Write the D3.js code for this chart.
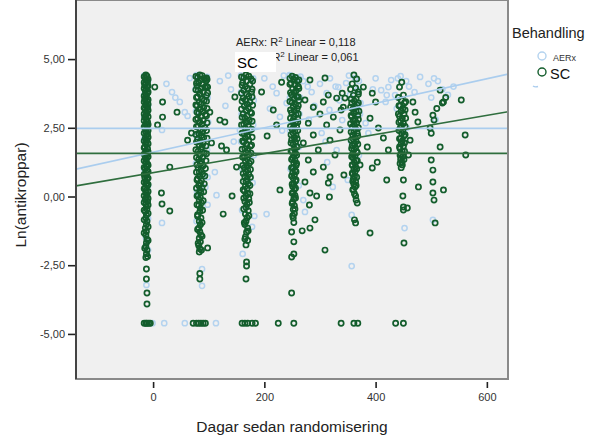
<!DOCTYPE html>
<html>
<head>
<meta charset="utf-8">
<script src="https://cdn.jsdelivr.net/npm/d3@7"></script>
<style>
	body { margin: 0; background: #fff; }
	svg text { font-family: "Liberation Sans", Arial, sans-serif; }
</style>
</head>
<body>
<div id="chart"></div>
<script>
// data: [dagar, ln(antikroppar)]
var groups = ['AERx', 'SC'];
var xTicks = [0, 200, 400, 600];
var yTicks = [5, 2.5, 0, -2.5, -5];

// R2 linear fits (intercept at day 0, slope per day) and group means
var fitIntercept = [1.614, 0.868];
var fitSlope = [0.00445, 0.00347];
var groupMean = [2.48, 1.57];
var rSquared = ['0,118', '0,061'];

var scVisit0 = [[-13,4.42],[-11,4.38],[-14,4.3],[-12,4.25],[-10,4.18],[-13,4.12],[-15,4.05],[-11,3.99],[-12,3.9],[-14,3.84],[-10,3.77],[-13,3.7],[-12,3.61],[-15,3.55],[-11,3.47],[-13,3.4],[-12,3.31],[-10,3.25],[-14,3.18],[-12,3.1],[-11,3.02],[-13,2.95],[-15,2.88],[-12,2.8],[-10,2.71],[-13,2.65],[-11,2.58],[-14,2.5],[-12,2.43],[-13,2.35],[-10,2.27],[-12,2.2],[-14,2.12],[-11,2.05],[-13,1.97],[-12,1.88],[-15,1.8],[-10,1.74],[-13,1.66],[-12,1.57],[-11,1.5],[-14,1.42],[-12,1.35],[-13,1.26],[-10,1.18],[-12,1.1],[-14,1.02],[-11,0.95],[-13,0.87],[-12,0.78],[-15,0.7],[-11,0.63],[-13,0.55],[-12,0.46],[-10,0.4],[-14,0.31],[-12,0.23],[-13,0.14],[-11,0.07],[-12,-0.02],[-14,-0.1],[-10,-0.18],[-13,-0.27],[-12,-0.36],[-11,-0.45],[-14,-0.55],[-12,-0.66],[-13,-0.78],[-11,-0.9],[-12,-1.02],[-14,-1.15],[-12,-1.27],[-13,-1.4],[-11,-1.55],[-12,-1.68],[-13,-1.82],[-11,-1.95],[-12,-2.08],[-10,-2.18],[-13,-2.22],
	[-12,-2.64],[-12,-3.0],[-11,-3.51],[-11,-3.91],[-16,-4.61],[-13,-4.61],[-11,-4.61],[-8,-4.61],[-5,-4.61],
	[3,3.98],[17,3.44],[43,3.07],[17,2.89],[8,2.6],[30,1.07],[15,0.13],[16,-0.27],[30,-0.53]];
var scVisit0b = [[-16,4.36],[-9,4.27],[-16,4.15],[-9,4.02],[-16,3.93],[-9,3.8],[-16,3.66],[-9,3.52],[-16,3.44],[-9,3.36],[-16,3.22],[-9,3.14],[-16,3.0],[-9,2.9],[-16,2.76],[-9,2.62],[-16,2.53],[-9,2.4],[-16,2.3],[-9,2.16],[-16,2.02],[-9,1.92],[-16,1.77],[-9,1.63],[-16,1.54],[-9,1.45],[-16,1.3],[-9,1.14],[-16,1.06],[-9,0.9],[-16,0.8],[-9,0.67],[-16,0.52],[-9,0.44],[-16,0.28],[-9,0.18],[-16,0.03],[-9,-0.07],[-16,-0.22],[-9,-0.31],[-16,-0.5],[-9,-0.62],[-16,-0.85],[-9,-1.1],[-16,-1.33],[-9,-1.6],[-15,-1.88]];

var scVisit1 = [[84,4.42],[88,4.4],[80,4.33],[92,4.3],[85,4.24],[95,4.2],[82,4.15],[89,4.1],[79,4.03],[93,3.98],[86,3.92],[81,3.86],[90,3.8],[84,3.73],[96,3.68],[80,3.62],[88,3.55],[92,3.5],[83,3.43],[86,3.36],[79,3.3],[91,3.24],[85,3.17],[89,3.1],[82,3.04],[94,2.98],[86,2.91],[80,2.84],[90,2.77],[84,2.7],[88,2.63],[81,2.57],[93,2.5],[85,2.43],[89,2.36],[82,2.29],[87,2.22],[91,2.15],[80,2.08],[85,2.01],[90,1.94],[83,1.87],[88,1.8],[86,1.72],[81,1.65],[92,1.58],[84,1.5],[89,1.43],[82,1.36],[87,1.28],[85,1.2],[90,1.12],[81,1.05],[86,0.97],[83,0.89],[89,0.81],[84,0.73],[80,0.65],[87,0.57],[85,0.48],[82,0.4],[88,0.32],[84,0.23],[86,0.14],[81,0.05],[85,-0.04],[83,-0.13],[87,-0.23],[82,-0.33],[85,-0.43],[84,-0.55],[80,-0.66],[86,-0.78],[83,-0.9],[85,-1.03],[82,-1.15],[84,-1.28],[86,-1.4],[83,-1.52],[85,-1.65],[82,-1.78],[84,-1.9],[83,-2.02],[98,-1.87],
	[84,-2.8],[84,-3.0],[72,-4.61],[78,-4.61],[82,-4.61],[86,-4.61],[90,-4.61],[94,-4.61],
	[96,4.31],[98,3.98],[102,3.07],[69,2.31],[62,2.05],[105,1.95],[123,1.84],[132,1.69],[120,2.78],[129,2.71],[147,3.62],[150,1.07],[142,0.02],[126,-0.64]];
var scVisit1b = [[77,4.37],[97,4.26],[78,4.12],[96,4.0],[77,3.88],[98,3.77],[78,3.6],[96,3.47],[77,3.33],[97,3.2],[79,3.07],[96,2.94],[77,2.8],[97,2.68],[78,2.54],[96,2.4],[77,2.26],[97,2.12],[78,1.98],[95,1.84],[77,1.7],[96,1.56],[78,1.42],[95,1.3],[79,1.16],[94,1.02],[78,0.88],[93,0.75],[79,0.6],[92,0.46],[78,0.3],[91,0.17],[79,0.02],[90,-0.15],[79,-0.3],[89,-0.5],[80,-0.72],[88,-0.95],[80,-1.2],[88,-1.45],[81,-1.7],[87,-1.95]];

var scVisit2 = [[167,4.42],[172,4.38],[163,4.32],[176,4.28],[168,4.2],[161,4.14],[174,4.08],[166,4.0],[170,3.93],[163,3.86],[177,3.8],[168,3.72],[172,3.65],[162,3.58],[166,3.5],[174,3.43],[169,3.36],[164,3.29],[171,3.22],[167,3.14],[175,3.07],[162,3.0],[169,2.93],[165,2.85],[173,2.78],[168,2.7],[163,2.63],[171,2.56],[166,2.48],[174,2.41],[168,2.34],[164,2.27],[170,2.2],[166,2.12],[172,2.05],[163,1.98],[168,1.9],[175,1.83],[165,1.75],[170,1.68],[167,1.6],[172,1.52],[164,1.44],[169,1.37],[166,1.29],[173,1.21],[168,1.13],[164,1.05],[170,0.97],[167,0.89],[172,0.8],[165,0.72],[169,0.63],[167,0.55],[171,0.46],[166,0.38],[169,0.29],[164,0.2],[170,0.11],[167,0.02],[172,-0.08],[165,-0.18],[169,-0.28],[167,-0.4],[171,-0.52],[166,-0.64],[169,-0.77],[167,-0.9],[165,-1.02],[170,-1.15],[168,-1.3],[166,-1.47],[170,-1.6],[167,-1.76],
	[168,-2.38],[168,-2.53],[167,-3.0],[160,-4.61],[165,-4.61],[170,-4.61],[178,-4.61],[184,-4.61],
	[216,3.15],[231,4.16],[205,2.2],[195,3.8],[222,2.6]];
var scVisit2b = [[159,4.35],[179,4.2],[160,4.05],[178,3.9],[159,3.76],[178,3.62],[160,3.47],[179,3.32],[159,3.18],[177,3.03],[160,2.88],[178,2.74],[159,2.6],[177,2.45],[160,2.3],[178,2.16],[161,2.02],[177,1.87],[160,1.72],[176,1.58],[161,1.43],[176,1.28],[161,1.13],[175,0.98],[162,0.84],[175,0.7],[162,0.55],[174,0.4],[162,0.25],[174,0.1],[163,-0.06],[173,-0.22],[163,-0.45],[172,-0.7],[164,-0.95],[171,-1.25],[165,-1.55]];

var scVisit3 = [[250,4.38],[256,4.33],[253,4.26],[259,4.2],[248,4.13],[255,4.06],[261,4.0],[251,3.92],[257,3.85],[253,3.78],[249,3.7],[258,3.63],[254,3.56],[262,3.49],[250,3.42],[256,3.35],[252,3.27],[259,3.2],[254,3.12],[249,3.05],[257,2.98],[253,2.9],[260,2.83],[251,2.75],[256,2.68],[253,2.6],[258,2.53],[250,2.45],[255,2.37],[252,2.3],[257,2.22],[254,2.14],[249,2.06],[256,1.98],[252,1.9],[258,1.82],[254,1.73],[250,1.65],[256,1.57],[253,1.48],[251,1.4],[255,1.31],[253,1.22],[257,1.13],[252,1.04],[255,0.95],[251,0.86],[254,0.76],[252,0.66],[256,0.56],[253,0.46],[251,0.36],[254,0.26],[252,0.15],[255,0.04],[253,-0.08],[251,-0.2],[254,-0.33],[252,-0.47],[254,-0.62],[252,-0.78],[253,-0.95],
	[249,-1.29],[253,-1.65],[249,-2.2],[253,-2.09],[249,-3.51],[225,-4.61],[253,-4.61],
	[228,0.24],[282,0.13],[294,0.02],[281,-0.31],[317,-0.02],[291,-0.85],[282,-1.15],[268,-1.25],[309,-1.95],[273,0.53],[315,0.49],
	[309,4.31],[282,4.24],[315,3.69],[273,3.51],[330,3.58],[306,3.44],[342,3.25],[288,3.25],[300,3.0],[324,2.89],[279,2.67],[312,2.6],[336,2.42],[288,2.24],[318,2.05],[270,1.95],[297,1.69],[327,1.51],[279,1.33],[306,1.07],[288,0.89],[318,0.71],[343,0.78]];
var scVisit3b = [[246,4.3],[262,4.24],[246,4.08],[262,3.93],[247,3.78],[261,3.62],[246,3.46],[261,3.3],[247,3.15],[261,3.0],[247,2.85],[260,2.7],[247,2.55],[260,2.4],[248,2.25],[259,2.1],[248,1.95],[259,1.8],[248,1.65],[258,1.5],[249,1.35],[258,1.2],[249,1.05],[257,0.9],[249,0.75],[257,0.6],[250,0.45],[256,0.3],[250,0.12],[256,-0.05],[250,-0.25],[255,-0.45],[251,-0.7]];

var scVisit4 = [[361,4.42],[366,4.28],[358,4.1],[364,3.95],[369,3.8],[360,3.68],[365,3.56],[362,3.47],[357,3.4],[367,3.33],[363,3.25],[359,3.18],[365,3.1],[361,3.03],[368,2.96],[357,2.9],[363,2.82],[360,2.75],[366,2.68],[362,2.6],[358,2.53],[364,2.46],[361,2.38],[367,2.3],[359,2.23],[363,2.15],[360,2.08],[365,2.0],[362,1.92],[358,1.85],[364,1.77],[361,1.7],[366,1.62],[359,1.55],[363,1.47],[360,1.39],[365,1.31],[362,1.23],[358,1.15],[364,1.07],[361,0.99],[363,0.9],[359,0.82],[362,0.73],[360,0.64],[364,0.55],[361,0.45],[363,0.35],[360,0.25],[362,0.1],[364,0.02],[365,-0.13],[367,-0.24],[362,-0.85],[364,-0.96],
	[338,-4.61],[361,-4.61],[368,-4.61],
	[394,3.76],[400,3.44],[390,2.85],[405,2.49],[414,2.13],[423,1.69],[385,1.8],[394,1.04],[403,1.25],[420,0.6],[345,3.58],[338,3.15],[340,3.76],[378,3.98],[372,1.15],[390,-1.33]];
var scVisit4b = [[355,3.9],[369,3.72],[356,3.55],[369,3.4],[355,3.25],[370,3.1],[356,2.95],[369,2.8],[355,2.65],[369,2.5],[356,2.35],[368,2.2],[356,2.05],[368,1.9],[357,1.75],[367,1.6],[357,1.45],[367,1.3],[358,1.15],[366,1.0],[358,0.85],[366,0.7],[359,0.55],[365,0.4],[359,0.25]];

var scVisit5 = [[447,4.16],[443,3.98],[450,3.69],[446,3.51],[452,3.4],[444,3.3],[449,3.2],[446,3.1],[451,3.0],[443,2.92],[448,2.84],[445,2.75],[450,2.66],[446,2.57],[444,2.48],[449,2.39],[447,2.3],[451,2.2],[445,2.11],[448,2.02],[446,1.92],[450,1.83],[444,1.74],[448,1.64],[446,1.55],[449,1.45],[445,1.36],[447,1.26],[448,1.15],[446,1.05],[450,0.6],[449,0.02],[450,-0.38],[457,-0.42],[450,-0.49],[451,-1.69],
	[436,-4.61],[450,-4.61],
	[476,2.71],[467,3.44],[471,3.07],[516,3.87],[522,3.44],[503,2.96],[498,2.49],[462,2.05],[459,1.51]];
var scVisit5b = [[441,3.6],[454,3.45],[442,3.3],[453,3.15],[441,3.0],[454,2.85],[442,2.7],[453,2.55],[442,2.4],[453,2.25],[443,2.1],[452,1.95],[443,1.8],[452,1.65],[444,1.5],[451,1.35],[444,1.2]];

var scVisit6 = [[503,0.53],[503,0.13],[505,-0.13],[507,-0.96],[522,0.24],[477,0.35],[500,1.33],[503,0.96],[516,1.8],[554,3.51],[561,2.24],[562,1.51],[500,2.3],[505,2.78],[510,3.2],[520,3.4],[526,3.6]];

var aerxVisit0 = [[-16,4.4],[-9,4.2],[-16,3.7],[-9,3.3],[-16,2.9],[-9,2.5],[-16,2.1],[-9,1.6],[-16,1.0],[-9,0.4],[-16,-0.2],[-9,-0.8],[-13,-1.5],[-12,-3.22],[-9,-1.95],[-1,-4.61],
	[66,4.31],[34,3.8],[48,3.44],[57,3.07],[62,2.93],[16,2.42],[24,4.1],[40,3.6],[16,-0.96],[20,-4.61],[57,-4.61]];

var aerxVisit1 = [[78,4.42],[97,4.35],[76,3.9],[98,3.6],[77,3.1],[99,2.7],[78,2.2],[97,1.7],[77,1.2],[98,0.7],[79,0.16],[94,0.34],[114,0.05],[111,0.89],[88,-2.64],[88,-3.25],[113,-4.61],[98,-0.3],[78,-0.9],
	[156,2.42],[140,3.9],[120,4.2],[130,3.3],[145,2.0],[182,-0.71],[204,-0.64],[161,-2.09],[135,4.4]];

var aerxVisit2 = [[158,4.4],[180,4.3],[158,3.8],[181,3.5],[159,3.0],[180,2.6],[158,2.0],[181,1.5],[160,1.0],[179,0.5],[160,-0.5],[178,-1.1],
	[200,4.3],[215,4.0],[222,3.76],[235,4.4],[240,3.4],[210,3.2],[228,2.9],[245,4.42],[265,4.36],[270,4.2],[278,4.0],[285,3.8],[264,3.6],[290,3.3],[300,4.1],[318,4.3],[328,4.0],[333,3.98],[312,3.76],[335,3.5],[317,3.15],[340,2.78],[303,2.31],[330,1.69],[313,1.25],[323,0.35],[270,-0.13],[273,-0.56],[232,2.4],[280,2.8],[310,2.0]];

var aerxVisit3 = [[246,4.4],[262,4.3],[246,3.6],[263,3.0],[246,2.4],[262,1.8],[247,1.0],[262,0.4]];

var aerxVisit4 = [[347,4.13],[363,4.31],[352,4.4],[370,4.2],[367,3.87],[373,3.4],[382,2.67],[387,2.31],[350,0.6],[357,-0.67],[357,-2.53],[354,3.7],[372,3.0],[356,2.0],[370,1.5]];

var aerxVisit5 = [[410,3.87],[423,3.98],[428,4.24],[420,3.69],[435,3.69],[418,3.44],[440,4.3],[455,4.2],[460,4.0],[445,4.38],[438,3.2],[456,2.5],[452,-1.15],[395,3.9],[400,4.3]];

var aerxVisit6 = [[495,4.1],[505,4.3],[512,4.2],[520,3.9],[500,3.6],[508,2.8],[503,-0.85],[530,3.7],[540,4.0],[470,3.8],[480,4.35]];

var aerxPoints = [].concat(aerxVisit0, aerxVisit1, aerxVisit2, aerxVisit3, aerxVisit4, aerxVisit5, aerxVisit6);
var scPoints = [].concat(scVisit0, scVisit0b, scVisit1, scVisit1b, scVisit2, scVisit2b, scVisit3, scVisit3b, scVisit4, scVisit4b, scVisit5, scVisit5b, scVisit6);

var colors = ['#b4d3ef', '#135d2c'];
var lineColors = ['#aacdee', '#2f6e3e'];

var W = 604, H = 437;
var pLeft = 76, pRight = 508, pTop = 0, pBottom = 379;

var x = d3.scaleLinear().domain([-138.6, 638]).range([pLeft, pRight]);
var y = d3.scaleLinear().domain([-6.64, 7.15]).range([pBottom, pTop]);

var svg = d3.select('#chart')
	.append('svg')
	.attr('width', W)
	.attr('height', H);

svg.append('rect')
	.attr('x', pLeft)
	.attr('y', pTop)
	.attr('width', pRight - pLeft)
	.attr('height', pBottom - pTop)
	.attr('fill', '#f0f0f0');

svg.append('clipPath')
	.attr('id', 'clip')
	.append('rect')
	.attr('x', pLeft)
	.attr('y', pTop)
	.attr('width', pRight - pLeft)
	.attr('height', pBottom - pTop);

var plot = svg.append('g').attr('clip-path', 'url(#clip)');

// points: AERx first, SC on top
plot.selectAll('.aerx')
	.data(aerxPoints)
	.enter()
	.append('circle')
	.attr('class', 'aerx')
	.attr('cx', function (d) { return x(d[0]); })
	.attr('cy', function (d) { return y(d[1]); })
	.attr('r', 2.6)
	.attr('fill', 'none')
	.attr('stroke', colors[0])
	.attr('stroke-width', 1.5);

plot.selectAll('.sc')
	.data(scPoints)
	.enter()
	.append('circle')
	.attr('class', 'sc')
	.attr('cx', function (d) { return x(d[0]); })
	.attr('cy', function (d) { return y(d[1]); })
	.attr('r', 2.6)
	.attr('fill', 'none')
	.attr('stroke', colors[1])
	.attr('stroke-width', 1.7);

// mean lines and linear fits
var xd = x.domain();
groups.forEach(function (g, k) {
	plot.append('line')
		.attr('x1', x(xd[0]))
		.attr('x2', x(xd[1]))
		.attr('y1', y(groupMean[k]))
		.attr('y2', y(groupMean[k]))
		.attr('stroke', lineColors[k])
		.attr('stroke-width', 1.6);

	plot.append('line')
		.attr('x1', x(xd[0]))
		.attr('x2', x(xd[1]))
		.attr('y1', y(fitIntercept[k] + fitSlope[k] * xd[0]))
		.attr('y2', y(fitIntercept[k] + fitSlope[k] * xd[1]))
		.attr('stroke', lineColors[k])
		.attr('stroke-width', 1.6);
});

// frame
svg.append('rect')
	.attr('x', pLeft)
	.attr('y', pTop)
	.attr('width', pRight - pLeft)
	.attr('height', pBottom - pTop)
	.attr('fill', 'none')
	.attr('stroke', '#8a8a8a')
	.attr('stroke-width', 2);

svg.append('line')
	.attr('x1', pLeft).attr('x2', pLeft)
	.attr('y1', pTop).attr('y2', pBottom)
	.attr('stroke', '#444')
	.attr('stroke-width', 2);

// axes
var fmt = function (d) { return d3.format('.2f')(d).replace('.', ',').replace('\u2212', '-'); };

var yAxis = svg.append('g')
	.attr('transform', 'translate(' + (pLeft - 1) + ',0)')
	.call(d3.axisLeft(y).tickValues(yTicks).tickSize(7).tickFormat(fmt));

var xAxis = svg.append('g')
	.attr('transform', 'translate(0,' + (pBottom + 3) + ')')
	.call(d3.axisBottom(x).tickValues(xTicks).tickSize(6).tickPadding(5));

[yAxis, xAxis].forEach(function (a) {
	a.select('.domain').remove();
	a.selectAll('.tick line').attr('stroke', '#222').attr('stroke-width', 1.6);
	a.selectAll('.tick text')
		.attr('fill', '#333')
		.style('font-size', '11px')
		.style('font-family', '"Liberation Sans", Arial, sans-serif');
});

svg.append('text')
	.attr('x', 292)
	.attr('y', 432)
	.attr('text-anchor', 'middle')
	.attr('fill', '#222')
	.style('font-size', '15.5px')
	.text('Dagar sedan randomisering');

svg.append('text')
	.attr('transform', 'translate(26,195) rotate(-90)')
	.attr('text-anchor', 'middle')
	.attr('fill', '#222')
	.style('font-size', '15.5px')
	.text('Ln(antikroppar)');

// R2 annotation
var ann = svg.append('text')
	.attr('x', 236)
	.attr('y', 46)
	.attr('fill', '#222')
	.style('font-size', '11px');
ann.append('tspan').text(groups[0] + ': R');
ann.append('tspan').attr('dy', -4).style('font-size', '8px').text('2');
ann.append('tspan').attr('dy', 4).text(' Linear = ' + rSquared[0]);

var ann2 = svg.append('text')
	.attr('x', 251)
	.attr('y', 61)
	.attr('fill', '#222')
	.style('font-size', '11px');
ann2.append('tspan').text(groups[1] + ': R');
ann2.append('tspan').attr('dy', -4).style('font-size', '8px').text('2');
ann2.append('tspan').attr('dy', 4).text(' Linear = ' + rSquared[1]);

svg.append('rect')
	.attr('x', 235)
	.attr('y', 52)
	.attr('width', 41)
	.attr('height', 20)
	.attr('fill', '#fff');

svg.append('text')
	.attr('x', 237)
	.attr('y', 68)
	.attr('fill', '#000')
	.style('font-size', '15px')
	.text(groups[1]);

// legend
svg.append('text')
	.attr('x', 512)
	.attr('y', 38)
	.attr('fill', '#222')
	.style('font-size', '14.5px')
	.text('Behandling');

svg.append('circle')
	.attr('cx', 542).attr('cy', 56).attr('r', 4)
	.attr('fill', 'none')
	.attr('stroke', colors[0])
	.attr('stroke-width', 1.4);

svg.append('text')
	.attr('x', 553)
	.attr('y', 61)
	.attr('fill', '#333')
	.style('font-size', '9px')
	.text(groups[0]);

svg.append('circle')
	.attr('cx', 542).attr('cy', 72).attr('r', 4)
	.attr('fill', 'none')
	.attr('stroke', colors[1])
	.attr('stroke-width', 1.4);

svg.append('text')
	.attr('x', 550)
	.attr('y', 79)
	.attr('fill', '#111')
	.style('font-size', '14.5px')
	.text(groups[1]);

svg.append('path')
	.attr('d', 'M533,86 Q535,87.5 538,86.5')
	.attr('fill', 'none')
	.attr('stroke', lineColors[0])
	.attr('stroke-width', 1.4);
</script>
</body>
</html>
